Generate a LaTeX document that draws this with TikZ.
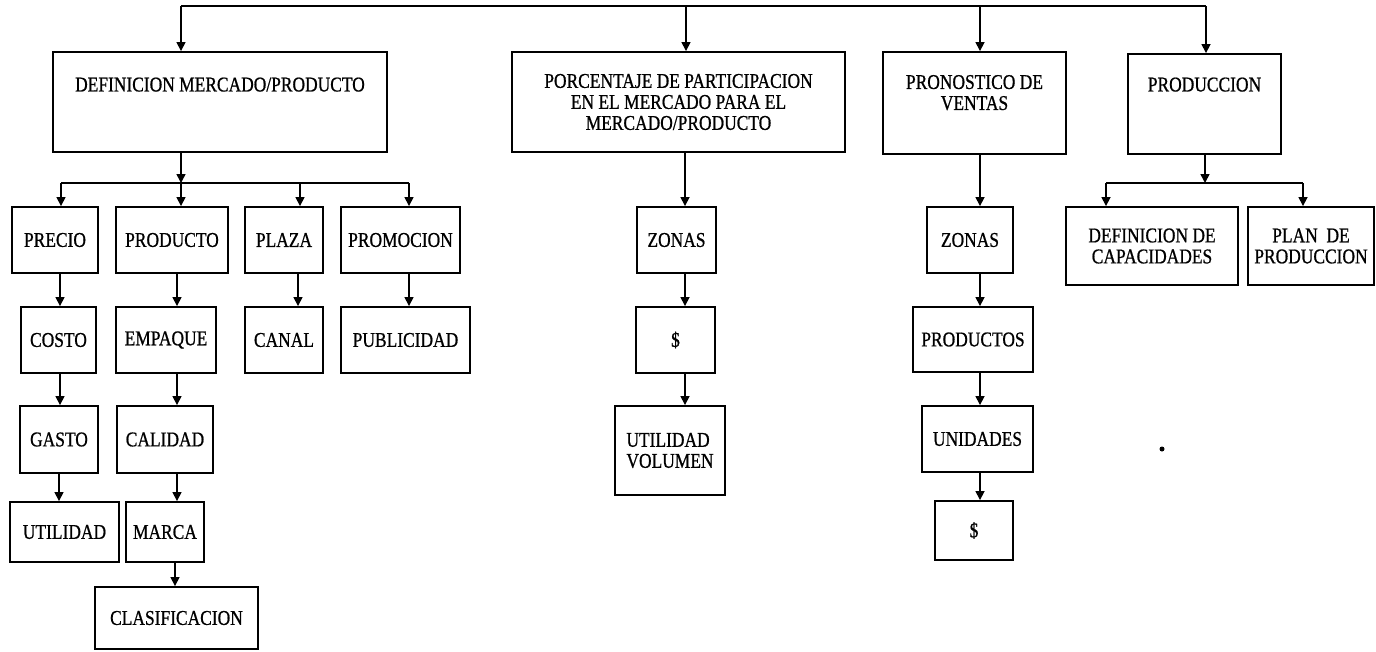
\documentclass[tikz,border=0pt]{standalone}
\usepackage{fontspec}
\setmainfont{Liberation Serif}[FakeStretch=0.83,FakeBold=0.8]
\usetikzlibrary{arrows.meta}
\begin{document}
\begin{tikzpicture}[x=1pt,y=-1pt,
  bx/.style={draw, line width=1.9pt, rectangle, inner sep=0pt, align=center,
    font=\fontsize{21}{21}\selectfont},
  ln/.style={line width=1.6pt},
  arr/.style={line width=1.6pt, -{Triangle[length=9pt,width=9pt]}}]
\path[use as bounding box, fill=white] (0,0) rectangle (1376,651);

% top level boxes
\node[bx, minimum width=334pt, minimum height=100pt, text height=13.9pt, text depth=35pt] (def) at (220,102) {DEFINICION MERCADO/PRODUCTO};
\node[bx, minimum width=333pt, minimum height=100pt] (por) at (678.5,102) {PORCENTAJE DE PARTICIPACION\\EN EL MERCADO PARA EL\\MERCADO/PRODUCTO};
\node[bx, minimum width=183pt, minimum height=102pt] (pro) at (974.5,103) {PRONOSTICO DE\\VENTAS\\\mbox{}};
\node[bx, minimum width=153pt, minimum height=100pt, text height=13.9pt, text depth=39pt] (prd) at (1204.5,104) {PRODUCCION};

% marketing mix
\node[bx, minimum width=86pt, minimum height=66pt] (precio) at (55,240) {PRECIO};
\node[bx, minimum width=112pt, minimum height=66pt] (producto) at (172,240) {PRODUCTO};
\node[bx, minimum width=78pt, minimum height=66pt] (plaza) at (284,240) {PLAZA};
\node[bx, minimum width=119pt, minimum height=66pt] (promocion) at (400.5,240) {PROMOCION};

\node[bx, minimum width=75pt, minimum height=66pt] (costo) at (58.5,340) {COSTO};
\node[bx, minimum width=100pt, minimum height=66pt] (empaque) at (166,340) {EMPAQUE};
\node[bx, minimum width=78pt, minimum height=66pt] (canal) at (284,340) {CANAL};
\node[bx, minimum width=129pt, minimum height=66pt] (publicidad) at (405.5,340) {PUBLICIDAD};

\node[bx, minimum width=78pt, minimum height=67pt] (gasto) at (59,439.5) {GASTO};
\node[bx, minimum width=96pt, minimum height=67pt] (calidad) at (165,439.5) {CALIDAD};

\node[bx, minimum width=109pt, minimum height=60pt] (utilidad) at (64.5,532) {UTILIDAD};
\node[bx, minimum width=78pt, minimum height=60pt] (marca) at (165,532) {MARCA};

\node[bx, minimum width=163pt, minimum height=62pt] (clasif) at (176.5,618) {CLASIFICACION};

% participation column
\node[bx, minimum width=79pt, minimum height=66pt] (zonas1) at (676.5,240) {ZONAS};
\node[bx, minimum width=79pt, minimum height=66pt] (dol1) at (675.5,340) {\$};
\node[bx, minimum width=110pt, minimum height=89pt, align=left] (utvol) at (670,450.5) {UTILIDAD\\VOLUMEN};

% forecast column
\node[bx, minimum width=86pt, minimum height=66pt] (zonas2) at (970,240) {ZONAS};
\node[bx, minimum width=120pt, minimum height=65pt] (productos) at (973,339.5) {PRODUCTOS};
\node[bx, minimum width=111pt, minimum height=66pt] (unidades) at (977.5,439) {UNIDADES};
\node[bx, minimum width=78pt, minimum height=59pt] (dol2) at (974,530.5) {\$};

% production children
\node[bx, minimum width=172pt, minimum height=78pt] (defcap) at (1152,246) {DEFINICION DE\\CAPACIDADES};
\node[bx, minimum width=126pt, minimum height=78pt] (plan) at (1311,246) {PLAN~~DE\\PRODUCCION};

% top bus
\coordinate (t0) at (181,6);
\coordinate (t1) at (686,6);
\coordinate (t2) at (980,6);
\coordinate (t3) at (1206,6);
\draw[ln] (t0) -- (t3);
\draw[arr] (t0) -- (t0 |- def.north);
\draw[arr] (t1) -- (t1 |- por.north);
\draw[arr] (t2) -- (t2 |- pro.north);
\draw[arr] (t3) -- (t3 |- prd.north);

% marketing bus
\coordinate (b0) at (181,183);
\coordinate (bL) at (61,183);
\coordinate (bP) at (300,183);
\coordinate (bR) at (409,183);
\draw[arr] (b0 |- def.south) -- (b0);
\draw[ln] (bL) -- (bR);
\draw[arr] (bL) -- (bL |- precio.north);
\draw[arr] (b0) -- (b0 |- producto.north);
\draw[arr] (bP) -- (bP |- plaza.north);
\draw[arr] (bR) -- (bR |- promocion.north);

% chain x positions
\coordinate (cA) at (60,0);
\coordinate (cA2) at (59,0);
\coordinate (cB) at (177,0);
\coordinate (cB2) at (175,0);
\coordinate (cC) at (298,0);
\coordinate (cD) at (409,0);
\coordinate (cE) at (685,0);
\coordinate (cF) at (980,0);

\draw[arr] (cA |- precio.south) -- (cA |- costo.north);
\draw[arr] (cA |- costo.south) -- (cA |- gasto.north);
\draw[arr] (cA2 |- gasto.south) -- (cA2 |- utilidad.north);
\draw[arr] (cB |- producto.south) -- (cB |- empaque.north);
\draw[arr] (cB |- empaque.south) -- (cB |- calidad.north);
\draw[arr] (cB |- calidad.south) -- (cB |- marca.north);
\draw[arr] (cB2 |- marca.south) -- (cB2 |- clasif.north);
\draw[arr] (cC |- plaza.south) -- (cC |- canal.north);
\draw[arr] (cD |- promocion.south) -- (cD |- publicidad.north);

\draw[arr] (cE |- por.south) -- (cE |- zonas1.north);
\draw[arr] (cE |- zonas1.south) -- (cE |- dol1.north);
\draw[arr] (cE |- dol1.south) -- (cE |- utvol.north);

\draw[arr] (cF |- pro.south) -- (cF |- zonas2.north);
\draw[arr] (cF |- zonas2.south) -- (cF |- productos.north);
\draw[arr] (cF |- productos.south) -- (cF |- unidades.north);
\draw[arr] (cF |- unidades.south) -- (cF |- dol2.north);

% production bus
\coordinate (p0) at (1205,183);
\coordinate (pL) at (1106,183);
\coordinate (pR) at (1303,183);
\draw[arr] (p0 |- prd.south) -- (p0);
\draw[ln] (pL) -- (pR);
\draw[arr] (pL) -- (pL |- defcap.north);
\draw[arr] (pR) -- (pR |- plan.north);

% stray dot
\fill (1162,449) circle (2.5pt);
\end{tikzpicture}
\end{document}
